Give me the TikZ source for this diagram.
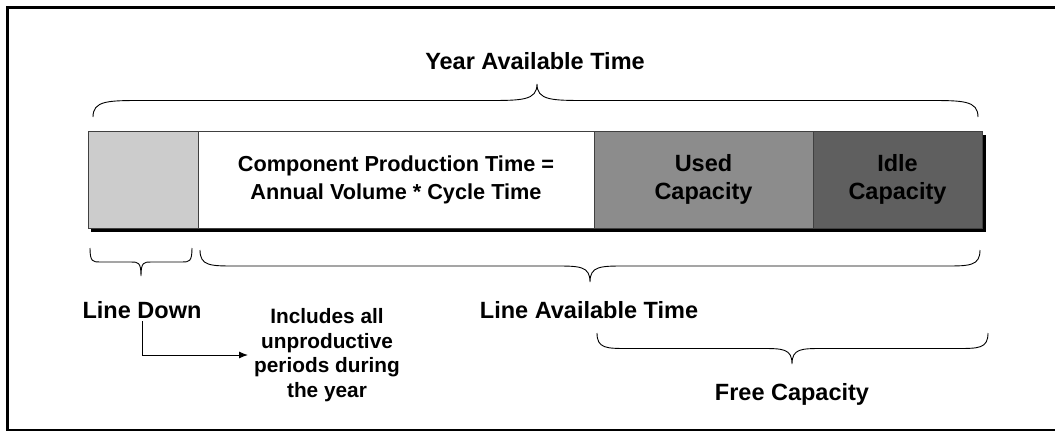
\documentclass[tikz,border=0pt]{standalone}
\usepackage{fontspec}
\setmainfont{Liberation Sans}
\usetikzlibrary{arrows.meta}
\definecolor{downgray}{HTML}{CCCCCC}
\definecolor{usedgray}{HTML}{8C8C8C}
\definecolor{idlegray}{HTML}{5F5F5F}
\definecolor{edgegray}{HTML}{404040}
\newcommand{\bigfont}{\fontsize{23.5}{28}\selectfont\bfseries}
\newcommand{\barfont}{\fontsize{21.7}{28}\selectfont\bfseries}
\newcommand{\notefont}{\fontsize{20.8}{24.7}\selectfont\bfseries}
\tikzset{seg/.style={draw=edgegray,line width=1pt,minimum height=97pt,inner sep=0pt,outer sep=0pt,align=center,font=\bigfont}}
\tikzset{lbl/.style={anchor=base,inner sep=3pt,font=\bigfont}}
\tikzset{braceline/.style={line width=0.9pt}}
\newcommand{\capbrace}[6]{%
  \draw[braceline] (#1,#4) .. controls (#1,{(#4+#5)/2}) and ({#1+0.3*#6},{(#4+#5)/2}) .. ({#1+#6},{(#4+#5)/2})
    -- ({#2-#6},{(#4+#5)/2}) .. controls ({#2-0.3*#6},{(#4+#5)/2}) and (#2,{(#4+#5)/2}) .. (#2,#5)
    .. controls (#2,{(#4+#5)/2}) and ({#2+0.3*#6},{(#4+#5)/2}) .. ({#2+#6},{(#4+#5)/2})
    -- ({#3-#6},{(#4+#5)/2}) .. controls ({#3-0.3*#6},{(#4+#5)/2}) and (#3,{(#4+#5)/2}) .. (#3,#4);}

\begin{document}
\begin{tikzpicture}[x=1pt,y=-1pt]
\useasboundingbox (0,0) rectangle (1055,431);
\draw[line width=3pt] (1058,7) -- (7,7) -- (7,430) -- (1058,430);
\fill[black] (91,135) rectangle (986,232);
\node[seg,fill=downgray,minimum width=110pt,anchor=north west,name=down] at (88,131) {};
\node[seg,fill=white,minimum width=396pt,anchor=west,name=prod,font=\barfont] at (down.east) {Component Production Time =\\Annual Volume * Cycle Time};
\node[seg,fill=usedgray,minimum width=219pt,anchor=west,name=used] at (prod.east) {Used\\Capacity};
\node[seg,fill=idlegray,minimum width=169pt,anchor=west,name=idle] at (used.east) {Idle\\Capacity};
\node[lbl,name=year] at (535,69) {Year Available Time};
\node[lbl,name=ld] at (142,318) {Line Down};
\node[lbl,name=lat] at (589,318) {Line Available Time};
\node[lbl,name=fc] at (792,400) {Free Capacity};
\node[font=\notefont,align=center,inner xsep=6pt,inner ysep=0pt,name=inc] at (327,355) {Includes all\\unproductive\\periods during\\the year};
\capbrace{93}{537}{978}{117}{84}{50}
\capbrace{90}{141}{192}{248}{276}{10}
\capbrace{200}{590}{980}{250}{282}{35}
\capbrace{597}{792}{988}{333}{364}{31}
\draw[-{Latex[length=9pt,width=7pt]},line width=1pt] (ld.south) |- (inc.west);
\end{tikzpicture}
\end{document}
